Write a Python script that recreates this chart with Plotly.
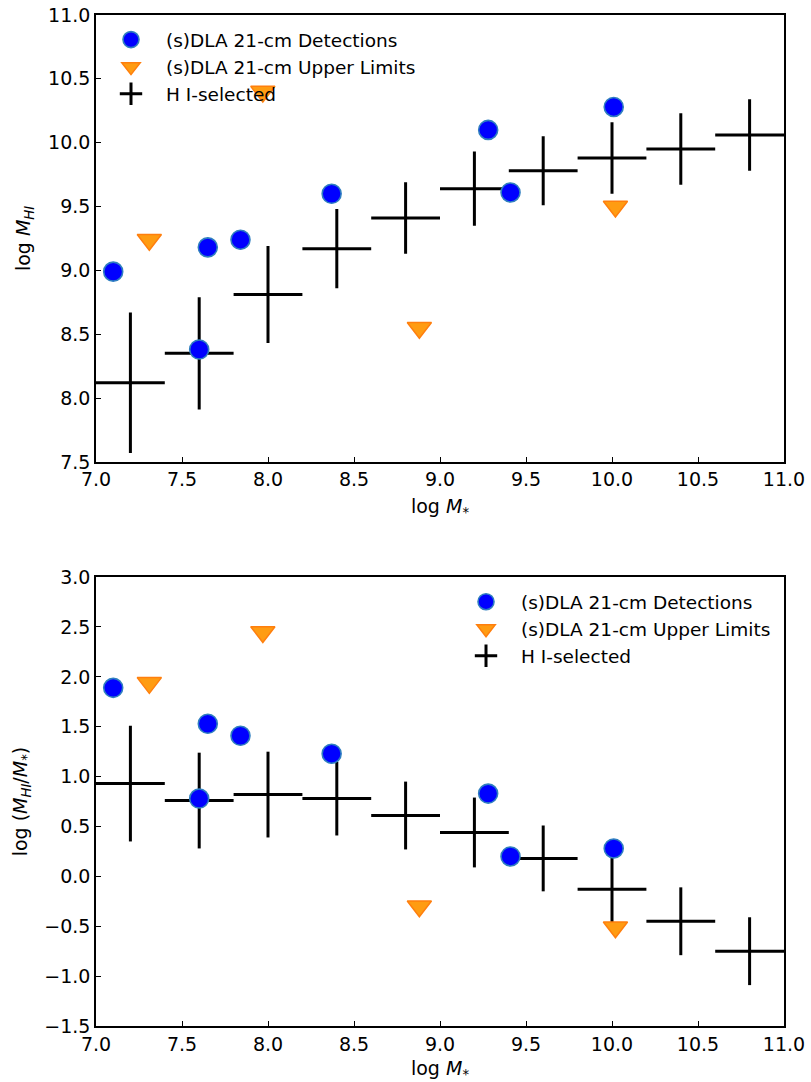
import plotly.graph_objects as go

# Detections
det_mstar = [7.10, 7.60, 7.65, 7.84, 8.37, 9.28, 9.41, 10.01]
det_mhi = [8.99, 8.38, 9.18, 9.24, 9.60, 10.10, 9.61, 10.28]
det_ratio = [1.89, 0.78, 1.53, 1.41, 1.23, 0.83, 0.20, 0.28]

# Upper limits
ul_mstar = [7.31, 7.97, 8.88, 10.02]
ul_mhi = [9.24, 10.40, 8.55, 9.50]
ul_ratio = [1.94, 2.45, -0.30, -0.51]

# HI-selected binned
hi_mstar = [7.2, 7.6, 8.0, 8.4, 8.8, 9.2, 9.6, 10.0, 10.4, 10.8]
hi_xerr = [0.2] * 10
hi_mhi = [8.12, 8.35, 8.81, 9.17, 9.41, 9.64, 9.78, 9.88, 9.95, 10.06]
hi_mhi_err = [0.55, 0.44, 0.38, 0.31, 0.28, 0.29, 0.27, 0.28, 0.28, 0.28]
hi_ratio = [0.93, 0.76, 0.82, 0.78, 0.61, 0.44, 0.18, -0.13, -0.45, -0.75]
hi_ratio_err = [0.58, 0.48, 0.43, 0.37, 0.34, 0.35, 0.33, 0.33, 0.34, 0.34]

xticks = [7.0, 7.5, 8.0, 8.5, 9.0, 9.5, 10.0, 10.5, 11.0]
y1ticks = [7.5, 8.0, 8.5, 9.0, 9.5, 10.0, 10.5, 11.0]
y2ticks = [-1.5, -1.0, -0.5, 0.0, 0.5, 1.0, 1.5, 2.0, 2.5, 3.0]

FONT = "DejaVu Sans"
TICK_SIZE = 19
LEG_SIZE = 18.5

det_marker = dict(symbol="circle", size=19, color="#0000ff",
                  line=dict(color="#2f7fc0", width=1.6))
ul_marker = dict(symbol="triangle-down", size=21, color="#ff9c12",
                 line=dict(color="#ff7f0e", width=1.5))

fig = go.Figure()

for xa, ya, yhi, yerr, ydet, yul, leg in [
    ("x", "y", hi_mhi, hi_mhi_err, det_mhi, ul_mhi, "legend"),
    ("x2", "y2", hi_ratio, hi_ratio_err, det_ratio, ul_ratio, "legend2"),
]:
    fig.add_trace(go.Scatter(
        x=hi_mstar, y=yhi, mode="markers", xaxis=xa, yaxis=ya,
        marker=dict(size=0.1, color="black", opacity=0),
        error_x=dict(type="data", array=hi_xerr, width=0, thickness=3, color="black"),
        error_y=dict(type="data", array=yerr, width=0, thickness=3, color="black"),
        showlegend=False, hoverinfo="skip"))
    fig.add_trace(go.Scatter(
        x=det_mstar, y=ydet, mode="markers", xaxis=xa, yaxis=ya,
        marker=det_marker, name="(s)DLA 21-cm Detections", legend=leg))
    fig.add_trace(go.Scatter(
        x=ul_mstar, y=yul, mode="markers", xaxis=xa, yaxis=ya,
        marker=ul_marker, name="(s)DLA 21-cm Upper Limits", legend=leg))
    fig.add_trace(go.Scatter(
        x=[None], y=[None], mode="markers", xaxis=xa, yaxis=ya,
        marker=dict(symbol="cross-thin-open", size=20, color="black",
                    line=dict(color="black", width=3)),
        name="H I-selected", legend=leg))

axis_common = dict(
    showline=True, linecolor="black", linewidth=1.6, mirror=True,
    ticks="inside", ticklen=5, tickwidth=1.3, tickcolor="black",
    showgrid=False, zeroline=False, tickformat=".1f", automargin=False,
    ticklabeloverflow="allow",
    tickfont=dict(family=FONT, size=TICK_SIZE, color="black"),
)

title_font = dict(family=FONT, size=TICK_SIZE, color="black")
leg_common = dict(xanchor="left", yanchor="top", bgcolor="rgba(0,0,0,0)",
                  font=dict(family=FONT, size=LEG_SIZE, color="black"),
                  itemsizing="trace", itemwidth=60, tracegroupgap=0)

fig.update_layout(
    template="none",
    width=811, height=1082,
    margin=dict(l=96, r=27, t=15, b=56),
    plot_bgcolor="white", paper_bgcolor="white",
    font=dict(family=FONT, size=TICK_SIZE, color="black"),
    xaxis=dict(axis_common, domain=[0, 1], anchor="y", range=[7.0, 11.0],
               tickvals=xticks,
               title=dict(text="log <i>M</i><sub>*</sub>", font=title_font, standoff=10)),
    yaxis=dict(axis_common, domain=[0.558, 1.0], anchor="x", range=[7.5, 11.0],
               tickvals=y1ticks,
               title=dict(text="log <i>M<sub>HI</sub></i>", font=title_font, standoff=12)),
    xaxis2=dict(axis_common, domain=[0, 1], anchor="y2", range=[7.0, 11.0],
                tickvals=xticks,
                title=dict(text="log <i>M</i><sub>*</sub>", font=title_font, standoff=10)),
    yaxis2=dict(axis_common, domain=[0.0, 0.444], anchor="x2", range=[-1.5, 3.0],
                tickvals=y2ticks,
                title=dict(text="log (<i>M<sub>HI</sub></i>/<i>M</i><sub>*</sub>)",
                           font=title_font, standoff=12)),
    legend=dict(leg_common, x=0.0, y=0.994),
    legend2=dict(leg_common, x=0.516, y=0.438),
)

fig.write_html(
    "out.html",
    config={"displayModeBar": False},
    post_script="document.body.style.margin='0';document.body.style.overflow='hidden';",
)
